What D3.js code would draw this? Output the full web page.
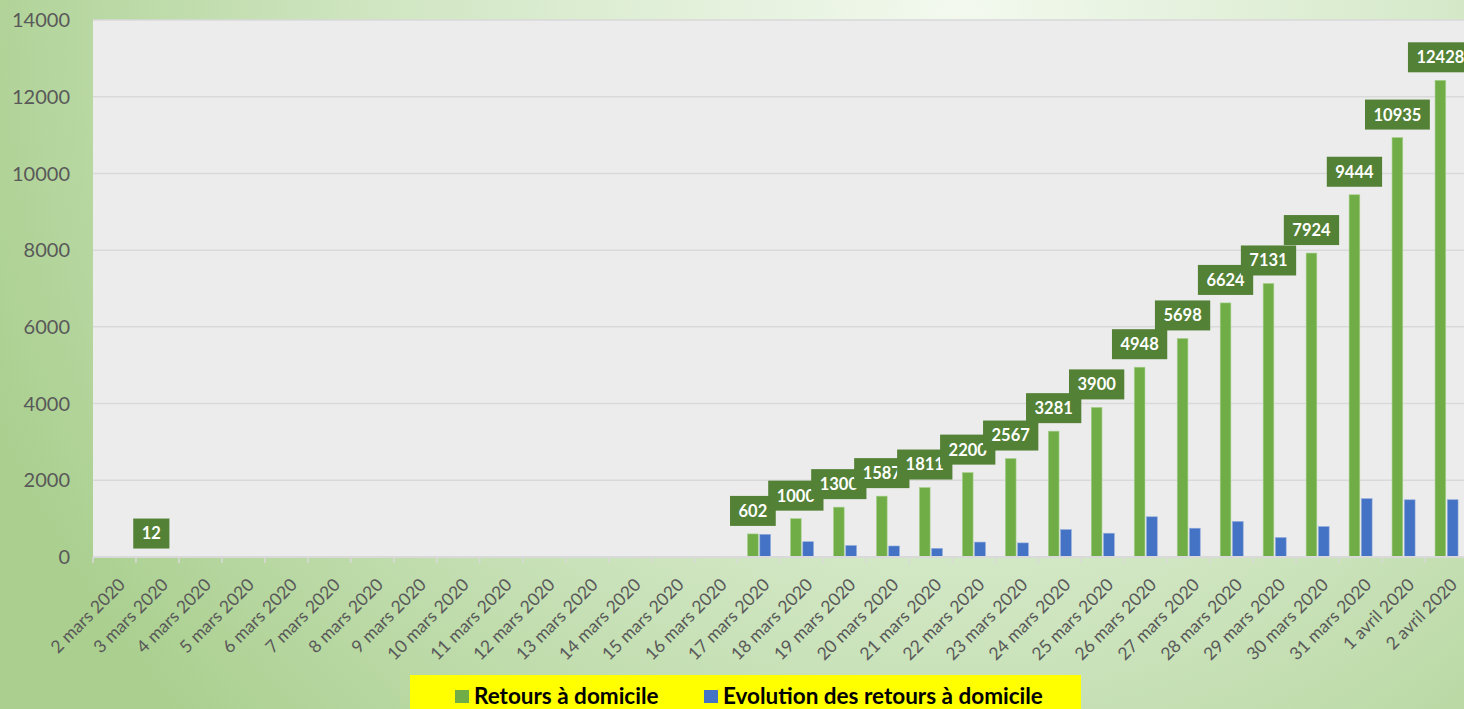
<!DOCTYPE html>
<html>
<head>
<meta charset="utf-8">
<script src="https://cdn.jsdelivr.net/npm/d3@7"></script>
<style>
  html, body { margin: 0; padding: 0; overflow: hidden; }
  svg { display: block; font-family: Lato, "Open Sans", sans-serif; }
</style>
</head>
<body>
<div id="chart"></div>
<script>
// Chart size
const WIDTH = 1464;
const HEIGHT = 709;

// Data
const dates = [
  "2 mars 2020", "3 mars 2020", "4 mars 2020", "5 mars 2020", "6 mars 2020",
  "7 mars 2020", "8 mars 2020", "9 mars 2020", "10 mars 2020", "11 mars 2020",
  "12 mars 2020", "13 mars 2020", "14 mars 2020", "15 mars 2020", "16 mars 2020",
  "17 mars 2020", "18 mars 2020", "19 mars 2020", "20 mars 2020", "21 mars 2020",
  "22 mars 2020", "23 mars 2020", "24 mars 2020", "25 mars 2020", "26 mars 2020",
  "27 mars 2020", "28 mars 2020", "29 mars 2020", "30 mars 2020", "31 mars 2020",
  "1 avril 2020", "2 avril 2020"
];
const retours = [
  null, 12, null, null, null, null, null, null, null, null, null, null, null, null, null,
  602, 1000, 1300, 1587, 1811, 2200, 2567, 3281, 3900, 4948,
  5698, 6624, 7131, 7924, 9444, 10935, 12428
];
const evolution = [
  null, 12, null, null, null, null, null, null, null, null, null, null, null, null, null,
  590, 398, 300, 287, 224, 389, 367, 714, 619, 1048,
  750, 926, 507, 793, 1520, 1491, 1493
];
const yTicks = [0, 2000, 4000, 6000, 8000, 10000, 12000, 14000];
const seriesNames = ["Retours à domicile", "Evolution des retours à domicile"];
const seriesColors = ["#70ad47", "#4472c4"];

const margin = { top: 20, right: -4, bottom: 152, left: 93 };

const svg = d3.select("#chart")
  .append("svg")
  .attr("width", WIDTH)
  .attr("height", HEIGHT);

// Background gradient
const defs = svg.append("defs");
const grad = defs.append("radialGradient")
  .attr("id", "bg")
  .attr("gradientUnits", "userSpaceOnUse")
  .attr("cx", 960).attr("cy", 20).attr("r", 1050);
grad.append("stop").attr("offset", 0).attr("stop-color", "#f3f9ef");
grad.append("stop").attr("offset", 0.55).attr("stop-color", "#d0e6c2");
grad.append("stop").attr("offset", 1).attr("stop-color", "#aacf8f");

svg.append("rect")
  .attr("width", WIDTH)
  .attr("height", HEIGHT)
  .attr("fill", "url(#bg)");

// Scales
const x0 = d3.scaleBand()
  .domain(dates)
  .range([margin.left, WIDTH - margin.right]);

const x1 = d3.scaleBand()
  .domain([0, 1])
  .range([10, 33])
  .paddingInner(0.13);

const y = d3.scaleLinear()
  .domain([0, 14000])
  .range([HEIGHT - margin.bottom, margin.top]);

// Plot area
svg.append("rect")
  .attr("x", margin.left)
  .attr("y", margin.top)
  .attr("width", WIDTH - margin.right - margin.left)
  .attr("height", y(0) - margin.top)
  .attr("fill", "#ececec");

// Gridlines
svg.append("g")
  .selectAll("line")
  .data(yTicks.filter(d => d > 0))
  .join("line")
  .attr("x1", margin.left)
  .attr("x2", WIDTH)
  .attr("y1", d => y(d))
  .attr("y2", d => y(d))
  .attr("stroke", "#d9d9d9")
  .attr("stroke-width", 1.5);

// Y axis labels
svg.append("g")
  .selectAll("text")
  .data(yTicks)
  .join("text")
  .attr("x", 70)
  .attr("y", d => y(d))
  .attr("dy", "0.36em")
  .attr("text-anchor", "end")
  .attr("font-size", 20)
  .attr("fill", "#595959")
  .text(d => d);

// Bars
const rows = dates.map((d, i) => ({ date: d, values: [retours[i], evolution[i]] }));

const barGroups = svg.append("g")
  .selectAll("g")
  .data(rows)
  .join("g")
  .attr("transform", d => `translate(${x0(d.date)},0)`);

barGroups.selectAll("rect")
  .data(d => d.values.map((v, k) => ({ k, v })).filter(e => e.v !== null))
  .join("rect")
  .attr("x", e => x1(e.k))
  .attr("width", x1.bandwidth())
  .attr("y", e => y(e.v))
  .attr("height", e => y(0) - y(e.v))
  .attr("fill", e => seriesColors[e.k])
  .attr("stroke", e => e.k === 0 ? "#a9d18e" : "#8faadc")
  .attr("stroke-width", 0.6);

// X axis line and ticks
const axis = svg.append("g");
axis.append("line")
  .attr("x1", margin.left)
  .attr("x2", WIDTH)
  .attr("y1", y(0))
  .attr("y2", y(0))
  .attr("stroke", "#d9d9d9")
  .attr("stroke-width", 2);

axis.selectAll(".tick")
  .data(dates)
  .join("line")
  .attr("class", "tick")
  .attr("x1", d => x0(d))
  .attr("x2", d => x0(d))
  .attr("y1", y(0))
  .attr("y2", y(0) + 6)
  .attr("stroke", "#d9d9d9")
  .attr("stroke-width", 1.5);

axis.selectAll(".xlab")
  .data(dates)
  .join("text")
  .attr("class", "xlab")
  .attr("transform", d => `translate(${x0(d) + x0.bandwidth() / 2 + 3},${y(0) + 20}) rotate(-45)`)
  .attr("dy", "0.71em")
  .attr("text-anchor", "end")
  .attr("font-size", 17.5)
  .attr("fill", "#595959")
  .text(d => d);

// Data labels (boxes), drawn in order so later ones overlap earlier
const labelData = rows.filter(d => d.values[0] !== null);
const labels = svg.append("g")
  .selectAll("g")
  .data(labelData)
  .join("g")
  .attr("transform", d => `translate(${x0(d.date) + x1(0) + x1.bandwidth() / 2},${y(d.values[0]) - 8})`);

labels.each(function(d) {
  const g = d3.select(this);
  const rect = g.append("rect").attr("fill", "#538135");
  const t = g.append("text")
    .attr("text-anchor", "middle")
    .attr("y", -15)
    .attr("dy", "0.36em")
    .attr("font-size", 16.5)
    .attr("font-weight", "bold")
    .attr("fill", "#ffffff")
    .text(d.values[0]);
  const w = t.node().getComputedTextLength() + 17;
  rect.attr("x", -w / 2).attr("y", -30).attr("width", w).attr("height", 30);
});

// Legend
const legend = svg.append("g");
legend.append("rect")
  .attr("x", 410)
  .attr("y", 675)
  .attr("width", 671)
  .attr("height", 40)
  .attr("fill", "#ffff00");

const legendX = [455, 704];
seriesNames.forEach((name, k) => {
  legend.append("rect")
    .attr("x", legendX[k])
    .attr("y", 690)
    .attr("width", 14)
    .attr("height", 13)
    .attr("fill", seriesColors[k]);
  legend.append("text")
    .attr("x", legendX[k] + 19)
    .attr("y", 704)
    .attr("font-size", 22.5)
    .attr("font-weight", "bold")
    .attr("fill", "#000000")
    .text(name);
});
</script>
</body>
</html>
